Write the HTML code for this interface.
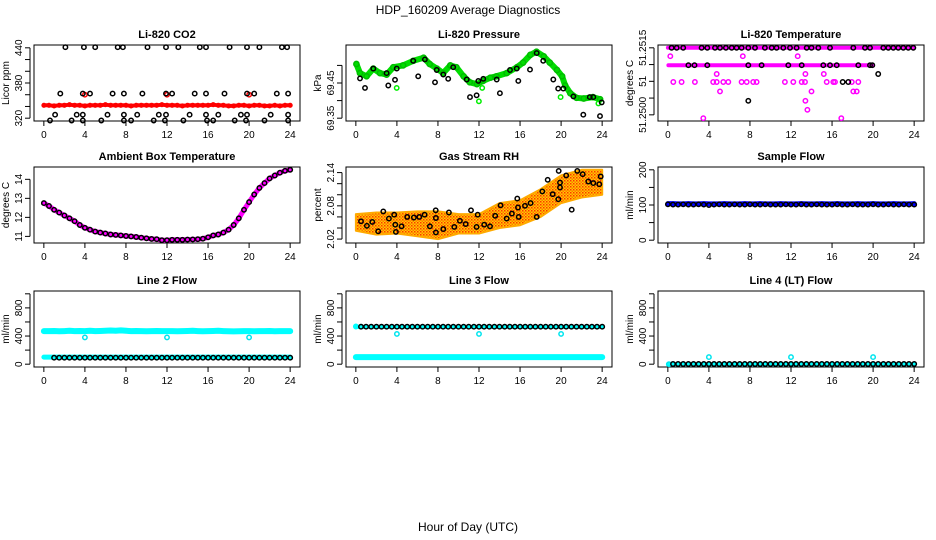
<!DOCTYPE html>
<html><head><meta charset="utf-8">
<style>
html,body{margin:0;padding:0;background:#fff;}
svg{display:block;font-family:"Liberation Sans",Arial,sans-serif;}
</style></head>
<body>
<svg id="chart" width="936" height="540" viewBox="0 0 936 540" xmlns="http://www.w3.org/2000/svg">
<text x="468" y="14" font-size="12" text-anchor="middle">HDP_160209  Average Diagnostics</text>
<text x="468" y="531" font-size="12" text-anchor="middle">Hour of Day (UTC)</text>
</svg>
<script>
// ---------- shared data ----------
const halfHours = [0,0.5,1,1.5,2,2.5,3,3.5,4,4.5,5,5.5,6,6.5,7,7.5,8,8.5,9,9.5,10,10.5,11,11.5,12,12.5,13,13.5,14,14.5,15,15.5,16,16.5,17,17.5,18,18.5,19,19.5,20,20.5,21,21.5,22,22.5,23,23.5,24];
const xTicks = [0,4,8,12,16,20,24];

// CO2
const co2Red = [342,342,341,342,342,343,342,342,341,342,342,342,343,342,342,342,342,341,342,342,342,342,342,343,342,342,342,341,342,342,342,342,342,343,342,342,341,341,342,342,341,342,342,341,341,342,341,342,342];
const co2RedOutHours = [4,12,20];
const co2RedOutVals = [360,360,360];
const co2BlackHours = [2.1,3.9,5.0,7.2,7.7,10.1,11.9,13.1,15.2,15.8,18.1,19.8,21.0,23.2,23.7,
 1.6,3.8,4.5,6.7,7.8,9.6,11.9,12.5,14.7,15.8,17.6,19.8,20.5,22.7,23.8,
 1.1,3.2,3.8,6.2,7.8,9.1,11.2,11.9,14.2,15.8,17.0,19.2,19.8,22.1,23.8,
 0.6,2.7,3.8,5.6,7.8,8.5,10.7,11.8,13.6,15.9,16.5,18.6,19.7,21.5,23.8];
const co2BlackVals = [441,441,441,441,441,441,441,441,441,441,441,441,441,441,441,
 362,362,362,362,362,362,362,362,362,362,362,362,362,362,362,
 326,326,326,326,326,326,326,326,326,326,326,326,326,326,326,
 316,316,316,316,316,316,316,316,316,316,316,316,316,316,316];

// Pressure
const pressHours = [0.05,0.4,1.05,1.7,2.35,3.0,3.65,4.6,5.6,6.6,7.2,7.9,8.5,9.2,9.8,10.5,11.1,11.8,12.4,13.1,13.7,14.7,15.7,16.3,17.0,17.6,18.3,18.9,19.6,20.1,20.4,20.9,21.5,22.2,23.1,23.8];
const pressGreen = [69.504,69.478,69.469,69.491,69.478,69.474,69.495,69.500,69.513,69.522,69.504,69.491,69.478,69.500,69.495,69.469,69.452,69.447,69.456,69.465,69.469,69.478,69.495,69.508,69.530,69.539,69.526,69.508,69.487,69.469,69.443,69.421,69.408,69.406,69.410,69.404];
const pressBlackHours = [0.89,0.4,3.81,3.16,6.08,7.71,9.0,11.12,11.77,11.93,14.04,15.83,16.97,19.24,19.72,22.16,23.79,23.96,23.14,20.21,18.26,17.62,15.02,13.72,12.42,10.8,9.49,8.52,7.88,6.73,5.59,3.98,3.0,1.7,15.67,21.2,22.8];
const pressBlackVals = [69.436,69.463,69.459,69.443,69.469,69.452,69.462,69.410,69.415,69.456,69.421,69.456,69.488,69.460,69.434,69.360,69.356,69.395,69.410,69.434,69.513,69.535,69.487,69.460,69.462,69.460,69.495,69.474,69.487,69.517,69.513,69.491,69.478,69.491,69.491,69.412,69.410];
const pressGreenOutHours = [3.98,11.99,12.31,19.95,23.63];
const pressGreenOutVals = [69.436,69.398,69.436,69.410,69.392];

// Li-820 temperature
const tempTopBandHours = [0,24];
const tempTopBandVals = [51.2520,51.2520];
const tempMidBandHours = [0.05,20.0];
const tempMidBandVals = [51.25148,51.25148];
const tempBlackHours = [0.37,0.86,1.5,3.29,3.84,4.59,5.08,5.66,6.22,6.7,7.19,7.84,8.49,9.46,10.12,10.6,11.25,11.9,12.55,13.53,14.0,14.66,15.8,18.07,19.21,19.7,20.99,21.48,21.97,22.46,22.94,23.43,23.92,
 2.0,2.6,3.84,7.84,9.14,11.74,13.04,15.15,15.8,16.45,18.56,19.7,19.92,
 7.84,20.5,17.04,17.58];
const tempBlackVals = [51.2520,51.2520,51.2520,51.2520,51.2520,51.2520,51.2520,51.2520,51.2520,51.2520,51.2520,51.2520,51.2520,51.2520,51.2520,51.2520,51.2520,51.2520,51.2520,51.2520,51.2520,51.2520,51.2520,51.2520,51.2520,51.2520,51.2520,51.2520,51.2520,51.2520,51.2520,51.2520,51.2520,
 51.25148,51.25148,51.25148,51.25148,51.25148,51.25148,51.25148,51.25148,51.25148,51.25148,51.25148,51.25148,51.25148,
 51.25042,51.25122,51.25098,51.25098];
const tempMagHours = [0.24,7.3,12.65,
 0.53,1.34,2.64,4.42,4.76,5.4,5.89,7.19,7.68,8.32,8.65,11.41,12.22,13.04,13.36,15.48,16.12,16.29,17.92,18.56,
 4.76,13.4,15.2, 5.08,14.0,18.07,18.4, 13.4, 13.6, 3.45,16.9];
const tempMagVals = [51.25175,51.25175,51.25175,
 51.25098,51.25098,51.25098,51.25098,51.25098,51.25098,51.25098,51.25098,51.25098,51.25098,51.25098,51.25098,51.25098,51.25098,51.25098,51.25098,51.25098,51.25098,51.25098,51.25098,
 51.25122,51.25122,51.25122, 51.2507,51.2507,51.2507,51.2507, 51.25042, 51.25015, 51.2499,51.2499];

// Ambient box temperature
const ambient = [12.75,12.6,12.4,12.25,12.1,11.95,11.8,11.6,11.45,11.35,11.25,11.2,11.15,11.1,11.08,11.05,11.02,11.0,10.97,10.93,10.9,10.87,10.85,10.8,10.8,10.82,10.82,10.82,10.83,10.84,10.85,10.88,10.95,11.05,11.1,11.2,11.35,11.6,11.95,12.4,12.8,13.2,13.55,13.8,14.05,14.2,14.35,14.45,14.5];

// Gas stream RH
const rhBandHours = [0,2,4,6,8,10,12,14,16,18,20,22,24];
const rhLow = [2.035,2.028,2.03,2.025,2.02,2.03,2.03,2.04,2.045,2.06,2.085,2.095,2.1];
const rhHigh = [2.065,2.068,2.068,2.07,2.07,2.065,2.065,2.085,2.09,2.11,2.135,2.145,2.145];
const rhBlackHours = [0.5,1.08,1.6,2.18,2.67,3.22,3.74,3.84,3.9,4.46,5.0,5.66,6.18,6.7,7.22,7.78,7.8,7.8,8.52,9.07,9.59,10.14,10.7,11.22,11.77,11.87,12.51,13.07,13.58,14.1,14.7,15.21,15.73,15.8,15.87,16.48,17.03,17.62,18.17,18.69,19.18,19.73,19.77,19.89,19.89,21.03,20.5,21.58,22.1,22.65,23.14,23.72,23.86];
const rhBlackVals = [2.052,2.044,2.051,2.034,2.070,2.057,2.064,2.046,2.033,2.043,2.060,2.059,2.060,2.064,2.043,2.072,2.058,2.032,2.038,2.068,2.042,2.053,2.047,2.072,2.042,2.064,2.046,2.043,2.062,2.081,2.057,2.066,2.093,2.077,2.060,2.080,2.085,2.060,2.106,2.127,2.101,2.092,2.143,2.122,2.113,2.073,2.135,2.143,2.137,2.124,2.121,2.119,2.133];

// Sample flow
const sampleBlue = [104,104,103,103,104,103,103,104,103,103,103,104,103,103,103,104,103,103,104,103,103,103,104,103,103,103,104,103,103,103,104,103,103,104,103,103,103,104,103,103,104,103,103,103,104,103,103,103,104];
const sampleBlack = [102,101,101,102,101,101,102,101,100,101,102,101,101,102,101,101,102,101,101,102,101,101,101,102,101,101,102,101,101,102,101,101,101,102,101,101,102,101,101,101,102,101,101,102,101,101,102,101,101];

// Line 2 flow
const line2CyanHigh = [470,470,472,468,470,475,470,472,470,474,470,472,475,478,476,480,474,470,472,470,468,470,472,470,470,470,468,470,472,475,470,468,470,472,474,470,468,466,468,470,470,468,470,470,472,468,470,470,470];
const line2CyanLow = [100,100,100,100,100,100,100,100,100,100,100,100,100,100,100,100,100,100,100,100,100,100,100,100,100,100,100,100,100,100,100,100,100,100,100,100,100,100,100,100,100,100,100,100,100,100,100,100,100];
const line2Black = [null,null,92,92,92,92,92,92,92,92,92,92,92,92,92,92,92,92,92,92,92,92,92,92,92,92,92,92,92,92,92,92,92,92,92,92,92,92,92,92,92,92,92,92,92,92,92,92,92];
const line2OutHours = [4,12,20];
const line2OutVals = [380,380,380];

// Line 3 flow
const line3CyanLow = [100,100,100,100,100,100,100,100,100,100,100,100,100,100,100,100,100,100,100,100,100,100,100,100,100,100,100,100,100,100,100,100,100,100,100,100,100,100,100,100,100,100,100,100,100,100,100,100,100];
const line3CyanHigh = [535,533,null,null,null,null,null,null,null,null,null,null,null,null,null,null,null,null,null,null,null,null,null,null,null,null,null,null,null,null,null,null,null,null,null,null,null,null,null,null,null,null,null,null,null,null,null,null,null];
const line3Black = [null,532,532,532,532,532,532,532,532,532,532,532,532,532,532,532,532,532,532,532,532,532,532,532,532,532,532,532,532,532,532,532,532,532,532,532,532,532,532,532,532,532,532,532,532,532,532,532,532];
const line3OutHours = [4,12,20];
const line3OutVals = [430,430,430];

// Line 4 flow
const line4Black = [null,2,2,2,2,2,2,2,2,2,2,2,2,2,2,2,2,2,2,2,2,2,2,2,2,2,2,2,2,2,2,2,2,2,2,2,2,2,2,2,2,2,2,2,2,2,2,2,2];
const line4CyanHours = [0.1,4,12,20];
const line4CyanVals = [0,100,100,100];

// ---------- drawing ----------
const svg = document.getElementById('chart');
const NS = 'http://www.w3.org/2000/svg';
const colLeft = [34,346,658];
const rowTop = [45,167,291];
const boxW = 266, boxH = 76;

function mk(tag, attrs, parent){
  const e = document.createElementNS(NS, tag);
  for (const k in attrs) e.setAttribute(k, attrs[k]);
  (parent||svg).appendChild(e);
  return e;
}

function panel(col,row,title,ylab,ymin,ymax,yTicks,yLabels,name){
  const L = colLeft[col], T = rowTop[row], B = T+boxH;
  const g = mk('g',{});
  
  
  const X = h => L + 9.85 + h*(boxW-19.7)/24;
  const yPad = (ymax-ymin)*0.04;
  const Y = v => B - (v-(ymin-yPad))/((ymax+yPad)-(ymin-yPad))*boxH;
  const box = mk('rect',{x:L,y:T,width:boxW,height:boxH,fill:'none',stroke:'#000','stroke-width':1},g);
  
  
  const t = mk('text',{x:L+boxW/2,y:T-7,'font-size':11,'font-weight':'bold','text-anchor':'middle'},g);
  t.textContent = title;
  
  
  const xa = mk('g',{},g);
  
  
  xTicks.forEach(h=>{
    mk('line',{x1:X(h),x2:X(h),y1:B,y2:B+5,stroke:'#000'},xa);
    const tl = mk('text',{x:X(h),y:B+17,'font-size':10,'text-anchor':'middle'},xa);
    tl.textContent = h;
    
    
  });
  const ya = mk('g',{},g);
  
  
  mk('line',{x1:L-4,x2:L-4,y1:Y(yTicks[0]),y2:Y(yTicks[yTicks.length-1]),stroke:'#000'},ya);
  yTicks.forEach((v,i)=>{
    mk('line',{x1:L-9,x2:L-4,y1:Y(v),y2:Y(v),stroke:'#000'},ya);
    if (yLabels[i]){
      const tl = mk('text',{x:0,y:0,'font-size':10,'text-anchor':'middle',transform:`translate(${L-12},${Y(v)}) rotate(-90)`},ya);
      tl.textContent = yLabels[i];
      
      
    }
  });
  const yt = mk('text',{x:0,y:0,'font-size':10,'text-anchor':'middle',transform:`translate(${L-25},${T+boxH/2}) rotate(-90)`},g);
  yt.textContent = ylab;
  
  
  return {g,X,Y};
}

function band(p,hours,vals,color,w,name){
  let d='';
  hours.forEach((h,i)=>{ if(vals[i]==null) return; d += (d?'L':'M')+p.X(h).toFixed(1)+','+p.Y(vals[i]).toFixed(1); });
  const e = mk('path',{d:d,fill:'none',stroke:color,'stroke-width':w,'stroke-linecap':'round','stroke-linejoin':'round'},p.g);
  
  
}
function pts(p,hours,vals,color,name,r){
  const gg = mk('g',{},p.g);
  
  
  hours.forEach((h,i)=>{
    if (vals[i]==null) return;
    const c = mk('circle',{cx:p.X(h).toFixed(1),cy:p.Y(vals[i]).toFixed(1),r:r||2.2,fill:'none',stroke:color,'stroke-width':1.5},gg);
    
    
  });
}

// Panel 1: CO2
let p = panel(0,0,'Li-820 CO2','Licor ppm',320,440,[320,340,360,380,400,420,440],['320','','','380','','','440'],'co2');
band(p,halfHours,co2Red,'#ff0000',4,'co2-red-band');
pts(p,halfHours,co2Red,'#ff0000','co2-red-points',1.8);
pts(p,co2RedOutHours,co2RedOutVals,'#ff0000','co2-red-outliers');
pts(p,co2BlackHours,co2BlackVals,'#000','co2-black-points');

// Panel 2: Pressure
p = panel(1,0,'Li-820 Pressure','kPa',69.35,69.55,[69.35,69.40,69.45,69.50],['69.35','','69.45',''],'pressure');
band(p,pressHours,pressGreen,'#00dd00',6,'pressure-green-band');
pts(p,pressHours,pressGreen,'#00bb00','pressure-green-points',2.6);
pts(p,pressGreenOutHours,pressGreenOutVals,'#00ee00','pressure-green-outliers');
pts(p,pressBlackHours,pressBlackVals,'#000','pressure-black-points');

// Panel 3: Li-820 temperature
p = panel(2,0,'Li-820 Temperature','degrees C',51.2499,51.2520,[51.2500,51.2505,51.2510,51.2515,51.2520],['51.2500','','51','','51.2515'],'li820-temperature');
band(p,tempTopBandHours,tempTopBandVals,'#ff00ff',4,'temp-top-band');
band(p,tempMidBandHours,tempMidBandVals,'#ff00ff',4,'temp-mid-band');
pts(p,tempMagHours,tempMagVals,'#ff00ff','temp-magenta-points');
pts(p,tempBlackHours,tempBlackVals,'#000','temp-black-points');

// Panel 4: Ambient
p = panel(0,1,'Ambient Box Temperature','degrees C',10.8,14.5,[11,12,13,14],['11','12','13','14'],'ambient');
band(p,halfHours,ambient,'#ff00ff',5,'ambient-magenta-band');
pts(p,halfHours,ambient,'#000','ambient-black-points');

// Panel 5: RH
p = panel(1,1,'Gas Stream RH','percent',2.018,2.145,[2.02,2.04,2.06,2.08,2.10,2.12,2.14],['2.02','','','2.08','','','2.14'],'gas-rh');
const defs = mk('defs',{});
const pat = mk('pattern',{id:'rhpat',width:3,height:3,patternUnits:'userSpaceOnUse'},defs);
mk('rect',{x:0,y:0,width:3,height:3,fill:'#ffcc00'},pat);
mk('rect',{x:0,y:0,width:1.5,height:1.5,fill:'#ff3300'},pat);
mk('rect',{x:1.5,y:1.5,width:1.5,height:1.5,fill:'#ff7700'},pat);
let dd='';
rhBandHours.forEach((h,i)=>{ dd += (i?'L':'M')+p.X(h).toFixed(1)+','+p.Y(rhHigh[i]).toFixed(1); });
for (let i=rhBandHours.length-1;i>=0;i--) dd += 'L'+p.X(rhBandHours[i]).toFixed(1)+','+p.Y(rhLow[i]).toFixed(1);
const rhb = mk('path',{d:dd+'Z',fill:'url(#rhpat)',stroke:'#ffaa00','stroke-width':2,'stroke-linejoin':'round'},p.g);


pts(p,rhBlackHours,rhBlackVals,'#000','rh-black-points');

// Panel 6: Sample flow
p = panel(2,1,'Sample Flow','ml/min',0,200,[0,50,100,150,200],['0','','100','','200'],'sample-flow');
band(p,halfHours,sampleBlue,'#0000ff',5,'sample-blue-band');
pts(p,halfHours,sampleBlack,'#000','sample-black-points');

// Panel 7: Line 2
p = panel(0,2,'Line 2 Flow','ml/min',0,1000,[0,200,400,600,800,1000],['0','','400','','800',''],'line2-flow');
band(p,halfHours,line2CyanHigh,'#00ffff',6,'line2-cyan-high-band');
band(p,halfHours,line2CyanLow,'#00ffff',5,'line2-cyan-low-band');
pts(p,line2OutHours,line2OutVals,'#00e5ee','line2-cyan-outliers');
pts(p,halfHours,line2Black,'#000','line2-black-points');

// Panel 8: Line 3
p = panel(1,2,'Line 3 Flow','ml/min',0,1000,[0,200,400,600,800,1000],['0','','400','','800',''],'line3-flow');
band(p,halfHours,line3CyanLow,'#00ffff',6,'line3-cyan-low-band');
band(p,[0,24],[530,530],'#00ffff',4,'line3-cyan-high-band');
pts(p,halfHours,line3CyanHigh,'#00ffff','line3-cyan-high-points');
pts(p,line3OutHours,line3OutVals,'#00e5ee','line3-cyan-outliers');
pts(p,halfHours,line3Black,'#000','line3-black-points');

// Panel 9: Line 4
p = panel(2,2,'Line 4 (LT) Flow','ml/min',0,1000,[0,200,400,600,800,1000],['0','','400','','800',''],'line4-flow');
band(p,[0,24],[0,0],'#00ffff',4,'line4-cyan-band');
pts(p,line4CyanHours,line4CyanVals,'#00e5ee','line4-cyan-points');
pts(p,halfHours,line4Black,'#000','line4-black-points');
</script>
</body></html>
